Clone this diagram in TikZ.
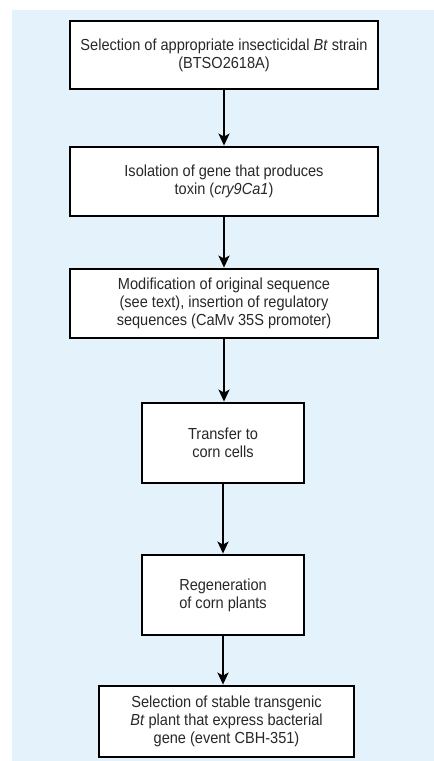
\documentclass[tikz,border=0pt]{standalone}
\usepackage{fontspec}
\setmainfont[FakeStretch=0.91]{Liberation Sans}
\usepackage{tikz}
\usetikzlibrary{arrows.meta}
\definecolor{bgblue}{RGB}{228,243,251}
\definecolor{txtgray}{RGB}{40,40,40}
\tikzset{
  stepbox/.style = {draw=black, fill=white, line width=2.8pt, align=center,
    text=txtgray, font=\fontsize{16}{18}\selectfont, inner sep=0pt},
  flow/.style = {line width=2.2pt, -{Stealth[length=12pt,width=11pt,inset=3pt]}}
}
\begin{document}
\begin{tikzpicture}[x=1pt,y=-1pt]
\useasboundingbox (0,0) rectangle (434,761);
\fill[bgblue] (12,10) rectangle (434,761);
% boxes
\node[stepbox, minimum width=308pt, minimum height=68pt] (strain) at (224,55)
  {Selection of appropriate insecticidal \textit{Bt} strain\\(BTSO2618A)};
\node[stepbox, minimum width=308pt, minimum height=69pt] (gene) at (224,181.5)
  {Isolation of gene that produces\\toxin (\textit{cry9Ca1})};
\node[stepbox, minimum width=308pt, minimum height=69pt] (modif) at (224,303.5)
  {Modification of original sequence\\(see text), insertion of regulatory\\sequences (CaMv 35S promoter)};
\node[stepbox, minimum width=162pt, minimum height=80pt] (transfer) at (223,443)
  {Transfer to\\corn cells};
\node[stepbox, minimum width=162pt, minimum height=80pt] (regen) at (223,595)
  {Regeneration\\of corn plants};
\node[stepbox, minimum width=255pt, minimum height=71pt] (plant) at (226.5,721.5)
  {Selection of stable transgenic\\\textit{Bt} plant that express bacterial\\gene (event CBH-351)};
% arrows
\draw[flow] (strain.south) -- (gene.north);
\draw[flow] (gene.south) -- (modif.north);
\draw[flow] (modif.south) -- (modif.south |- transfer.north);
\draw[flow] (transfer.south) -- (regen.north);
\draw[flow] (regen.south) -- (regen.south |- plant.north);
\end{tikzpicture}
\end{document}
